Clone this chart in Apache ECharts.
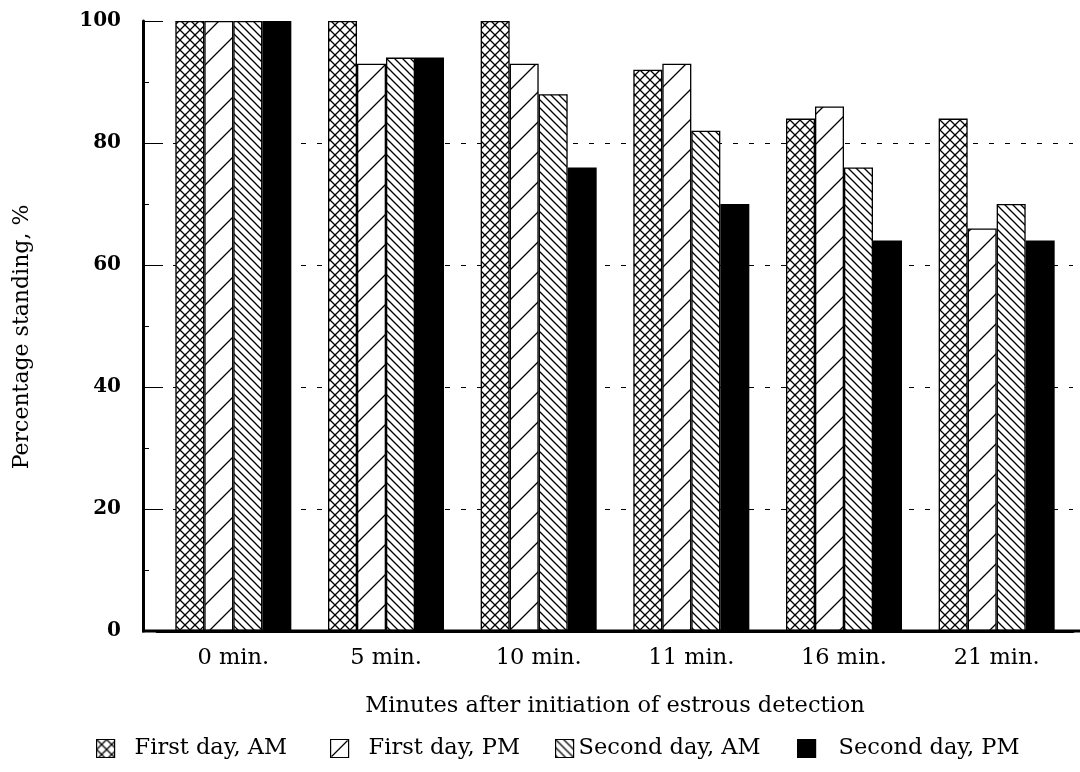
<!DOCTYPE html>
<html>
<head>
<meta charset="utf-8">
<script src="https://cdn.jsdelivr.net/npm/echarts@6/dist/echarts.min.js"></script>
<style>html,body{margin:0;padding:0;background:#fff}#c{width:1080px;height:772px}</style>
</head>
<body>
<div id="c"></div>
<script>
const categories = ['0 min.', '5 min.', '10 min.', '11 min.', '16 min.', '21 min.'];
const seriesNames = ['First day, AM', 'First day, PM', 'Second day, AM', 'Second day, PM'];
const firstDayAM = [100, 100, 100, 92, 84, 84];
const firstDayPM = [100, 93, 93, 93, 86, 66];
const secondDayAM = [100, 94, 88, 82, 76, 70];
const secondDayPM = [100, 94, 76, 70, 64, 64];
const yTicks = [0, 20, 40, 60, 80, 100];

function makePattern(size, draw) {
  const c = document.createElement('canvas');
  c.width = size; c.height = size;
  const ctx = c.getContext('2d');
  ctx.fillStyle = '#fff';
  ctx.fillRect(0, 0, size, size);
  ctx.strokeStyle = '#000';
  ctx.lineWidth = 1.3;
  ctx.lineCap = 'square';
  draw(ctx, size);
  return { image: c, repeat: 'repeat' };
}
function fwd(ctx, s) { // "/"
  ctx.beginPath();
  ctx.moveTo(-2, s + 2); ctx.lineTo(s + 2, -2);
  ctx.moveTo(-2, 2); ctx.lineTo(2, -2);
  ctx.moveTo(s - 2, s + 2); ctx.lineTo(s + 2, s - 2);
  ctx.stroke();
}
function back(ctx, s) { // "\"
  ctx.beginPath();
  ctx.moveTo(-2, -2); ctx.lineTo(s + 2, s + 2);
  ctx.moveTo(s - 2, -2); ctx.lineTo(s + 2, 2);
  ctx.moveTo(-2, s - 2); ctx.lineTo(2, s + 2);
  ctx.stroke();
}
const patCross = makePattern(10, (ctx, s) => { fwd(ctx, s); back(ctx, s); });
const patFwd = makePattern(30, fwd);
const patBack = makePattern(8, back);
const fills = [patCross, patFwd, patBack, '#000'];
const dataSets = [firstDayAM, firstDayPM, secondDayAM, secondDayPM];

const FONT = 'DejaVu Serif';
const series = seriesNames.map((n, i) => ({
  name: n,
  type: 'bar',
  data: dataSets[i],
  barWidth: 29,
  barGap: '0%',
  itemStyle: { color: fills[i], borderColor: '#000', borderWidth: 1.3 },
  emphasis: { disabled: true },
  animation: false
}));

const legendLefts = [91, 325, 550, 792];
const legendPads = [15, 15, 0, 18];
const legendIcons = [
  'rect',
  'path://M0,0L18,0L18,18L0,18ZM1,17L17,1',
  'rect',
  'rect'
];
const legendFills = [patCross, '#fff', patBack, '#000'];
const legends = seriesNames.map((n, i) => ({
  data: [{ name: n, icon: legendIcons[i], itemStyle: { color: legendFills[i], borderColor: '#000', borderWidth: 1.2 } }],
  left: legendLefts[i],
  top: 732,
  itemWidth: 18,
  itemHeight: 18,
  textStyle: { fontFamily: FONT, fontSize: 22.5, color: '#000', padding: [5, 0, 0, legendPads[i]] },
  selectedMode: false
}));

const chart = echarts.init(document.getElementById('c'), null, { renderer: 'canvas' });
chart.setOption({
  backgroundColor: '#fff',
  animation: false,
  grid: { left: 157, right: 7, top: 21, bottom: 141, containLabel: false },
  legend: legends,
  xAxis: {
    type: 'category',
    data: categories,
    name: 'Minutes after initiation of estrous detection',
    nameLocation: 'middle',
    nameGap: 64,
    nameTextStyle: { fontFamily: FONT, fontSize: 22.5, color: '#000' },
    axisLine: { lineStyle: { color: '#000', width: 3 } },
    axisTick: { show: false },
    axisLabel: { fontFamily: FONT, fontSize: 22.5, color: '#000', margin: 16 },
    z: 10
  },
  yAxis: {
    type: 'value',
    min: 0, max: 100, interval: 20,
    offset: 14,
    name: 'Percentage standing, %',
    nameLocation: 'middle',
    nameGap: 110,
    nameTextStyle: { fontFamily: FONT, fontSize: 22, color: '#000', padding: [0, 22, 0, 0] },
    axisLine: { show: true, lineStyle: { color: '#000', width: 3 } },
    axisTick: { show: true, inside: true, length: 20, lineStyle: { color: '#000', width: 1 } },
    minorTick: { show: true, splitNumber: 2, length: 6, lineStyle: { color: '#000', width: 1 } },
    axisLabel: { fontFamily: FONT, fontWeight: 'bold', fontSize: 20, color: '#000', margin: 22,
      formatter: v => (yTicks.indexOf(v) >= 0 ? String(v) : '') },
    splitLine: { show: true, lineStyle: { color: ['transparent', '#000', '#000', '#000', '#000', 'transparent'], width: 1, type: [5, 11] } }
  },
  graphic: [{
    type: 'line', z: 100,
    shape: { x1: 142, y1: 631, x2: 1080, y2: 631 },
    style: { stroke: '#000', lineWidth: 3 }
  }],
  series: series
});
</script>
</body>
</html>
